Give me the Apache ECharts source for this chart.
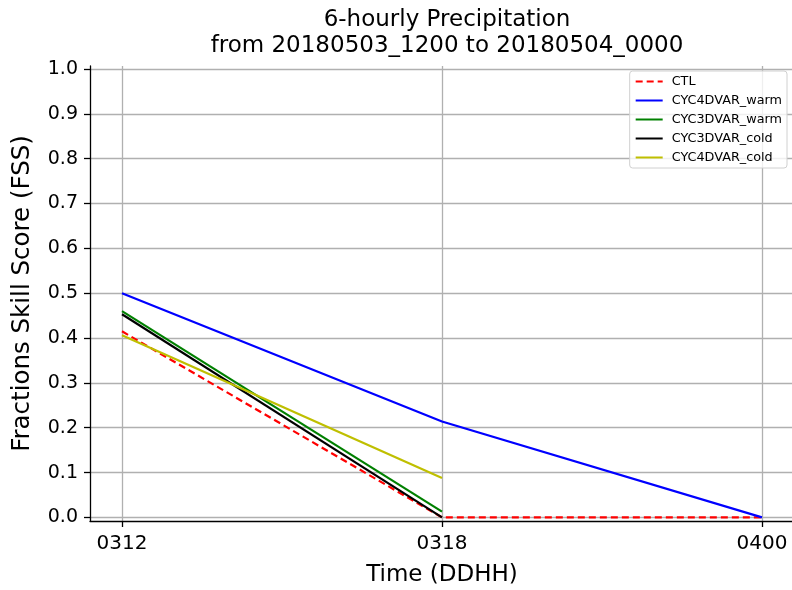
<!DOCTYPE html>
<html>
<head>
<meta charset="utf-8">
<script src="https://cdn.jsdelivr.net/npm/echarts@6/dist/echarts.min.js"></script>
<style>
  html, body { margin: 0; padding: 0; background: #fff; }
  #chart { width: 792px; height: 590px; }
</style>
</head>
<body>
<div id="chart"></div>
<script>
// time steps (category positions 0,1,2)
var times = ['0312', '0318', '0400'];
var yTicks = [0, 0.1, 0.2, 0.3, 0.4, 0.5, 0.6, 0.7, 0.8, 0.9, 1.0];

var ctl = [0.415, 0.0, 0.0];
var cyc4dvarWarm = [0.5, 0.214, 0.0];
var cyc3dvarWarm = [0.46, 0.013, null];
var cyc3dvarCold = [0.453, 0.0, null];
var cyc4dvarCold = [0.406, 0.088, null];

function pts(arr) {
    var out = [];
    for (var i = 0; i < arr.length; i++) {
        if (arr[i] !== null) out.push([i, arr[i]]);
    }
    return out;
}

function mkSeries(name, arr, color, dash) {
    return {
        name: name,
        type: 'line',
        data: pts(arr),
        symbol: 'none',
        lineStyle: { color: color, width: 2.2, type: dash ? [7, 4] : 'solid' },
        itemStyle: { color: color },
        z: 3
    };
}

var font = 'DejaVu Sans';
var chart = echarts.init(document.getElementById('chart'));
chart.setOption({
    animation: false,
    backgroundColor: '#fff',
    title: {
        text: '6-hourly Precipitation\nfrom 20180503_1200 to 20180504_0000',
        left: 442,
        textAlign: 'center',
        top: 2,
        textStyle: { fontFamily: font, fontSize: 23, fontWeight: 'normal', color: '#000', lineHeight: 26 }
    },
    legend: {
        orient: 'vertical',
        right: 5,
        top: 71,
        padding: [4, 5, 4, 5],
        itemGap: 6,
        itemWidth: 27,
        itemHeight: 13,
        borderColor: '#d0d0d0',
        borderWidth: 1,
        borderRadius: 3,
        backgroundColor: 'rgba(255,255,255,0.8)',
        itemStyle: { opacity: 0 },
        align: 'left',
        textStyle: { fontFamily: font, fontSize: 12.8, color: '#000', padding: [0, 0, 0, 4] },
        data: ['CTL', 'CYC4DVAR_warm', 'CYC3DVAR_warm', 'CYC3DVAR_cold', 'CYC4DVAR_cold']
    },
    grid: { left: 90, right: -2, top: 66, bottom: 69, outerBoundsMode: 'none', containLabel: false },
    xAxis: {
        type: 'value',
        min: -0.1,
        max: 2.1,
        name: 'Time (DDHH)',
        nameLocation: 'middle',
        nameGap: 43,
        nameTextStyle: { fontFamily: font, fontSize: 23, color: '#000' },
        axisLine: { onZero: false, lineStyle: { color: '#000', width: 1.3 } },
        axisTick: { customValues: [0, 1, 2], length: 6, lineStyle: { color: '#000', width: 1.3 } },
        axisLabel: {
            customValues: [0, 1, 2],
            margin: 13,
            fontFamily: font, fontSize: 20, color: '#000',
            formatter: function (v) { return times[Math.round(v)]; }
        },
        splitLine: { show: true, lineStyle: { color: '#b0b0b0', width: 1.3 } }
    },
    yAxis: {
        type: 'value',
        min: -0.008,
        max: 1.0067,
        name: 'Fractions Skill Score (FSS)',
        nameLocation: 'middle',
        nameGap: 55,
        nameTextStyle: { fontFamily: font, fontSize: 24.5, color: '#000' },
        axisLine: { show: true, onZero: false, lineStyle: { color: '#000', width: 1.3 } },
        axisTick: { show: true, customValues: yTicks, length: 6, lineStyle: { color: '#000', width: 1.3 } },
        axisLabel: {
            customValues: yTicks,
            margin: 12,
            fontFamily: font, fontSize: 19, color: '#000',
            formatter: function (v) { return v.toFixed(1); }
        },
        splitLine: { show: true, lineStyle: { color: '#b0b0b0', width: 1.3 } }
    },
    series: [
        mkSeries('CTL', ctl, '#ff0000', true),
        mkSeries('CYC4DVAR_warm', cyc4dvarWarm, '#0000ff', false),
        mkSeries('CYC3DVAR_warm', cyc3dvarWarm, '#008000', false),
        mkSeries('CYC3DVAR_cold', cyc3dvarCold, '#000000', false),
        mkSeries('CYC4DVAR_cold', cyc4dvarCold, '#bfbf00', false)
    ]
});
</script>
</body>
</html>
